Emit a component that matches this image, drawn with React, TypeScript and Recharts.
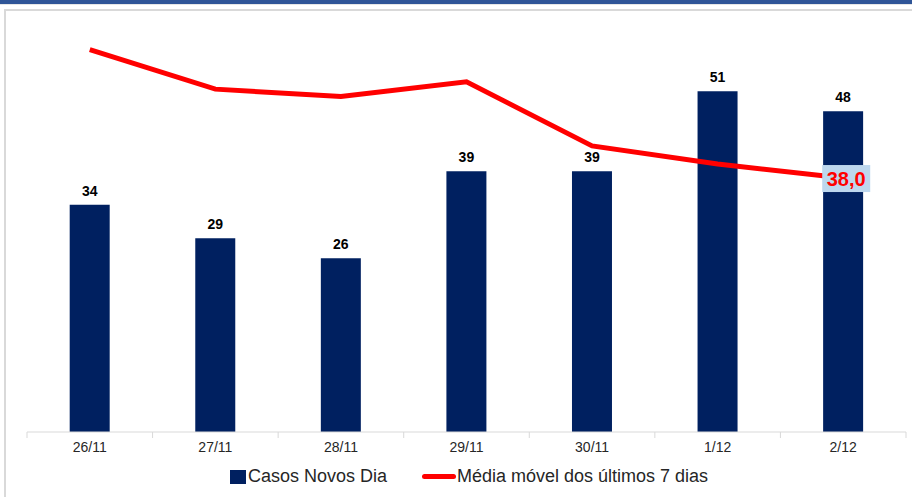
import React from "react"
import {
  ComposedChart,
  Bar,
  Line,
  XAxis,
  YAxis,
  LabelList,
} from "recharts"

const days = ["26/11", "27/11", "28/11", "29/11", "30/11", "1/12", "2/12"]
const newCases = [34, 29, 26, 39, 39, 51, 48]
const movingAvg = [57.2, 51.3, 50.2, 52.4, 42.8, 40.1, 38.0]

const W = 912
const H = 497
const ML = 27
const MR = 6
const band = (W - ML - MR) / days.length

const chartData = days.map((day, i) => ({
  day,
  casos: newCases[i],
  media: movingAvg[i],
}))

// ticks sit on the category boundaries, like the spreadsheet original
const DayTick = (props: any) => {
  const { x, y, payload, index } = props
  const left = x - band / 2
  return (
    <g>
      <line x1={left} y1={y - 8} x2={left} y2={y - 2} stroke="#D9D9D9" />
      {index === days.length - 1 && (
        <line x1={left + band} y1={y - 8} x2={left + band} y2={y - 2} stroke="#D9D9D9" />
      )}
      <text
        x={x}
        y={y + 12}
        textAnchor="middle"
        fontSize={14}
        fontFamily="'Liberation Sans Narrow', 'Liberation Sans', Arial, sans-serif"
        fill="#262626"
      >
        {payload.value}
      </text>
    </g>
  )
}

const LastAvgLabel = (props: any) => {
  const { x, y, index, value } = props
  if (index !== movingAvg.length - 1) return null
  const txt = Number(value).toFixed(1).replace(".", ",")
  return (
    <g>
      <rect x={x - 21} y={y - 13} width={48} height={27} fill="#BDD7EE" />
      <text
        x={x + 3}
        y={y + 8}
        textAnchor="middle"
        fontSize={20}
        fontWeight="bold"
        fontFamily="'Liberation Sans', Arial, sans-serif"
        fill="#FF0000"
      >
        {txt}
      </text>
    </g>
  )
}

const legendFont = "'Liberation Sans Narrow', 'Liberation Sans', Arial, sans-serif"

export default function App() {
  return (
    <div style={{ position: "relative", width: W, height: H, background: "#fff", overflow: "hidden" }}>
      <style>{`body{margin:0}`}</style>
      <div style={{ position: "absolute", left: 0, top: 0, width: W, height: 4, background: "#2F5597" }} />
      <div style={{ position: "absolute", left: 0, top: 4, width: W, height: 1, background: "#E6E6E6" }} />
      <div
        style={{
          position: "absolute",
          left: 4,
          top: 9,
          width: W,
          height: H,
          borderLeft: "2px solid #D9D9D9",
          borderTop: "2px solid #D9D9D9",
        }}
      />
      <div style={{ position: "absolute", left: 0, top: 0 }}>
        <ComposedChart
          width={W}
          height={H}
          data={chartData}
          margin={{ top: 31, right: MR, bottom: 35, left: ML }}
          barCategoryGap="34%"
        >
          <XAxis
            dataKey="day"
            axisLine={{ stroke: "#D9D9D9" }}
            tickLine={false}
            tick={<DayTick />}
            interval={0}
          />
          <YAxis hide domain={[0, 60]} />
          <Bar dataKey="casos" fill="#002060" isAnimationActive={false}>
            <LabelList
              dataKey="casos"
              position="top"
              offset={9}
              fill="#000"
              fontSize={14}
              fontWeight="bold"
              fontFamily="'Liberation Sans', Arial, sans-serif"
            />
          </Bar>
          <Line
            dataKey="media"
            stroke="#FF0000"
            strokeWidth={5}
            dot={false}
            activeDot={false}
            type="linear"
            isAnimationActive={false}
          >
            <LabelList dataKey="media" content={<LastAvgLabel />} />
          </Line>
        </ComposedChart>
      </div>
      <div
        style={{
          position: "absolute",
          top: 466,
          left: 13,
          width: W,
          display: "flex",
          justifyContent: "center",
          alignItems: "center",
          fontFamily: legendFont,
          fontSize: 18,
          color: "#262626",
        }}
      >
        <span style={{ display: "inline-block", width: 16, height: 14, background: "#002060", marginRight: 2 }} />
        <span style={{ marginRight: 35 }}>Casos Novos Dia</span>
        <span
          style={{ display: "inline-block", width: 34, height: 5, background: "#FF0000", borderRadius: 3, marginRight: 1 }}
        />
        <span>Média móvel dos últimos 7 dias</span>
      </div>
    </div>
  )
}
